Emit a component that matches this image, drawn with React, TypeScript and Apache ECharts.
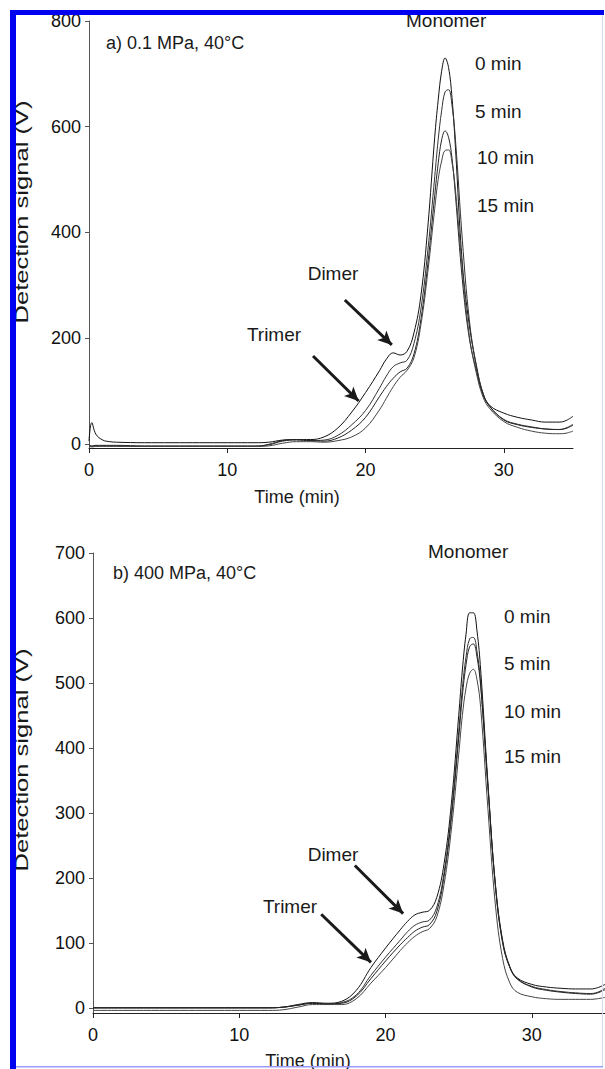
import React, { useEffect, useRef } from "react";
import * as echarts from "echarts";

// Elution time (min), shared by every trace
const TIME = [0, 0.2, 0.5, 1, 1.5, 2, 4, 6, 8, 10, 12, 13, 14, 15, 16, 17, 18, 19, 20, 21, 21.5, 22, 22.5, 23, 23.5, 24, 24.5, 25, 25.25, 25.5, 25.75, 26, 26.25, 26.5, 27, 27.5, 28, 28.5, 29, 30, 31, 32, 33, 34, 34.5, 35];

// a) 0.1 MPa, 40°C
const A_0MIN = [5, 40, 18, 7, 4, 3, 2, 2, 2, 2, 2, 3, 7, 8, 8, 13, 30, 60, 97, 138, 160, 172, 168, 175, 210, 280, 410, 580, 650, 705, 730, 712, 655, 560, 340, 225, 150, 95, 72, 58, 50, 45, 41, 41, 44, 52];
const A_5MIN = [-2, -4, -3, -3, -3, -3, -4, -4, -4, -4, -4, -2, 5, 7, 6, 7, 16, 36, 63, 105, 128, 146, 153, 158, 190, 255, 365, 505, 575, 630, 666, 670, 640, 575, 385, 235, 148, 95, 70, 46, 37, 32, 28, 27, 30, 37];
const A_10MIN = [-3, -5, -4, -4, -4, -4, -5, -5, -5, -5, -5, -1, 6, 8, 6, 5, 11, 26, 50, 89, 108, 124, 136, 143, 170, 235, 340, 470, 530, 575, 592, 580, 540, 470, 310, 200, 140, 92, 70, 45, 36, 31, 28, 27, 29, 35];
const A_15MIN = [-4, -6, -5, -5, -5, -5, -5, -5, -5, -5, -5, -4, 1, 4, 4, 3, 6, 13, 30, 64, 86, 108, 126, 139, 163, 225, 325, 445, 500, 535, 555, 556, 532, 480, 330, 205, 135, 88, 66, 42, 31, 24, 20, 19, 20, 24];

// b) 400 MPa, 40°C
const B_0MIN = [0, 0, 0, 0, 0, 0, 0, 0, 0, 0, 0, 1, 5, 8, 7, 10, 27, 62, 92, 120, 133, 143, 147, 150, 170, 222, 315, 450, 520, 575, 608, 608, 580, 520, 345, 190, 100, 62, 46, 36, 32, 30, 29, 29, 31, 36];
const B_5MIN = [0, 0, 0, 0, 0, 0, 0, 0, 0, 0, 0, 1, 4, 7, 6, 8, 20, 50, 78, 104, 117, 127, 132, 135, 155, 208, 300, 425, 492, 540, 568, 570, 548, 500, 340, 190, 102, 62, 44, 33, 28, 25, 23, 22, 24, 30];
const B_10MIN = [0, 0, 0, 0, 0, 0, 0, 0, 0, 0, 0, 1, 4, 7, 6, 7, 18, 45, 72, 97, 108, 118, 124, 128, 148, 202, 292, 415, 480, 528, 556, 560, 540, 495, 340, 192, 104, 63, 45, 32, 27, 24, 22, 21, 23, 28];
const B_15MIN = [-4, -4, -4, -4, -4, -4, -4, -4, -4, -4, -4, -3, 1, 5, 5, 5, 14, 38, 62, 88, 100, 110, 117, 122, 140, 190, 275, 390, 450, 492, 515, 521, 505, 462, 305, 160, 76, 38, 24, 17, 14, 13, 13, 13, 14, 16];

const X_TICKS = [0, 10, 20, 30];
const Y_TICKS_A = [0, 200, 400, 600, 800];
const Y_TICKS_B = [0, 100, 200, 300, 400, 500, 600, 700];
const SERIES_NAMES = ["0 min", "5 min", "10 min", "15 min"];

// Arrow annotations in data coordinates: [fromTime, fromSignal, toTime, toSignal]
const ARROWS_A = [
  [18.5, 272, 21.9, 187],
  [16.2, 166, 19.5, 81],
];
const ARROWS_B = [
  [17.9, 219, 21.2, 145],
  [15.6, 144, 19.0, 70],
];

const FONT = "'Liberation Sans', Arial, Helvetica, sans-serif";
const LINE_COLORS = ["#111", "#333", "#222", "#444"];

const pairs = (v: number[]) => TIME.map((t, i) => [t, v[i]]);

export default function App() {
  const ref = useRef<HTMLDivElement>(null);

  useEffect(() => {
    if (!ref.current) return;
    const chart = echarts.init(ref.current, undefined, { renderer: "svg" });

    const xAxisBase = (gridIndex: number) => ({
      type: "value" as const,
      gridIndex,
      min: 0,
      max: 35,
      interval: 10,
      axisLine: { show: true, onZero: false, lineStyle: { color: "#222", width: 1 } },
      axisTick: { show: true, length: 5, customValues: X_TICKS, lineStyle: { color: "#222" } },
      axisLabel: {
        customValues: X_TICKS,
        formatter: (v: number) => (v % 10 === 0 ? String(v) : ""),
        color: "#111",
        fontSize: 18,
        fontFamily: FONT,
        margin: 13,
      },
      splitLine: { show: false },
    });

    const yAxisBase = (gridIndex: number, max: number, ticks: number[], step: number) => ({
      type: "value" as const,
      gridIndex,
      min: -8,
      max,
      axisLine: { show: true, lineStyle: { color: "#555", width: 1 } },
      axisTick: { show: true, length: 4, customValues: ticks, lineStyle: { color: "#555" } },
      axisLabel: {
        customValues: ticks,
        formatter: (v: number) => (v % step === 0 && v >= 0 ? String(v) : ""),
        color: "#111",
        fontSize: 18,
        fontFamily: FONT,
        margin: 8,
      },
      splitLine: { show: false },
    });

    const arrowMark = (arrows: number[][]) => ({
      silent: true,
      symbol: ["none", "arrow"],
      symbolSize: [10, 14],
      label: { show: false },
      lineStyle: { color: "#1a1a1a", width: 3, type: "solid" as const },
      data: arrows.map((a) => [
        { coord: [a[0], a[1]] },
        { coord: [a[2], a[3]] },
      ]),
    });

    const mk = (name: string, data: number[], idx: number, colorIdx: number, arrows?: number[][]) => ({
      name,
      type: "line" as const,
      xAxisIndex: idx,
      yAxisIndex: idx,
      data: pairs(data),
      showSymbol: false,
      smooth: 0.4,
      clip: false,
      lineStyle: { color: LINE_COLORS[colorIdx], width: 1 },
      ...(arrows ? { markLine: arrowMark(arrows) } : {}),
    });

    const txt = (text: string, x: number, y: number, extra: any = {}) => ({
      type: "text",
      x,
      y,
      z: 50,
      style: {
        text,
        fill: "#1a1a1a",
        font: `19px ${FONT}`,
        textAlign: "left",
        textVerticalAlign: "middle",
        ...extra,
      },
    });

    const yName = (y: number) => ({
      type: "text",
      x: 22,
      y,
      rotation: Math.PI / 2,
      scaleX: 1.42,
      z: 50,
      style: {
        text: "Detection signal (V)",
        fill: "#1a1a1a",
        font: `18px ${FONT}`,
        textAlign: "center",
        textVerticalAlign: "middle",
      },
    });

    chart.setOption({
      animation: false,
      backgroundColor: "#fff",
      grid: [
        { left: 89, top: 21, width: 484, height: 427 },
        { left: 93, top: 553, width: 517, height: 460 },
      ],
      xAxis: [xAxisBase(0), xAxisBase(1)],
      yAxis: [yAxisBase(0, 800, Y_TICKS_A, 200), yAxisBase(1, 700, Y_TICKS_B, 100)],
      series: [
        mk(SERIES_NAMES[0], A_0MIN, 0, 0, ARROWS_A),
        mk(SERIES_NAMES[1], A_5MIN, 0, 1),
        mk(SERIES_NAMES[2], A_10MIN, 0, 2),
        mk(SERIES_NAMES[3], A_15MIN, 0, 3),
        mk(SERIES_NAMES[0], B_0MIN, 1, 0, ARROWS_B),
        mk(SERIES_NAMES[1], B_5MIN, 1, 1),
        mk(SERIES_NAMES[2], B_10MIN, 1, 2),
        mk(SERIES_NAMES[3], B_15MIN, 1, 3),
      ],
      graphic: [
        // panel a texts
        txt("a) 0.1 MPa, 40°C", 106, 43, { font: `18px ${FONT}` }),
        txt("Monomer", 406, 20),
        txt("0 min", 475, 63),
        txt("5 min", 475, 111),
        txt("10 min", 477, 157),
        txt("15 min", 477, 205),
        txt("Dimer", 333, 273, { textAlign: "center" }),
        txt("Trimer", 274, 334, { textAlign: "center" }),
        txt("Time (min)", 297, 497, { textAlign: "center", font: `18px ${FONT}` }),
        yName(212),
        // panel b texts
        txt("b) 400 MPa, 40°C", 113, 573, { font: `18px ${FONT}` }),
        txt("Monomer", 428, 551),
        txt("0 min", 504, 616),
        txt("5 min", 504, 663),
        txt("10 min", 504, 711),
        txt("15 min", 504, 756),
        txt("Dimer", 333, 854, { textAlign: "center" }),
        txt("Trimer", 290, 906, { textAlign: "center" }),
        txt("Time (min)", 308, 1061, { textAlign: "center", font: `18px ${FONT}` }),
        yName(760),
        // frame
        { type: "rect", z: 100, shape: { x: 10, y: 10, width: 594, height: 5 }, style: { fill: "#0000f0" } },
        { type: "rect", z: 100, shape: { x: 10, y: 10, width: 6, height: 1059 }, style: { fill: "#0000f0" } },
        { type: "rect", z: 100, shape: { x: 602, y: 15, width: 1, height: 1051 }, style: { fill: "#d8d8ee" } },
        { type: "rect", z: 100, shape: { x: 16, y: 1066, width: 587, height: 1.5 }, style: { fill: "#9a9aff" } },
      ],
    });

    return () => chart.dispose();
  }, []);

  return (
    <div
      ref={ref}
      style={{ position: "absolute", left: 0, top: 0, width: 605, height: 1069, background: "#fff" }}
    />
  );
}
